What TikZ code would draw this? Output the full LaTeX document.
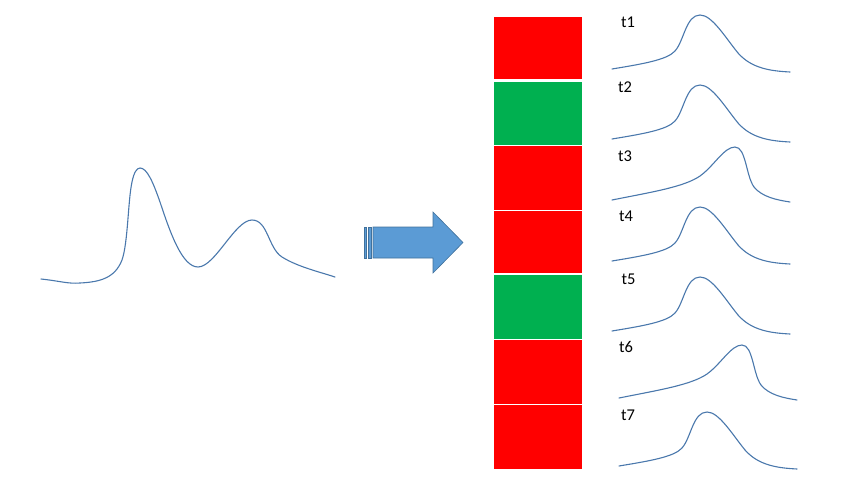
\documentclass[tikz,border=0pt]{standalone}
\usepackage{fontspec}
\setmainfont{Carlito}
\definecolor{boxred}{HTML}{FF0000}
\definecolor{boxgreen}{HTML}{00B050}
\definecolor{curveblue}{HTML}{4A78AC}
\definecolor{arrowfill}{HTML}{5B9BD5}
\definecolor{arrowline}{HTML}{41719C}
\begin{document}
\begin{tikzpicture}[x=1pt,y=-1pt,
  signal/.style={draw=curveblue,line width=1.1pt,line cap=round},
  lbl/.style={anchor=base west,inner sep=0pt,font=\fontsize{16.5}{18}\selectfont},
  arrowpart/.style={fill=arrowfill,draw=arrowline,line width=0.6pt,line join=miter}]
\useasboundingbox (0,0) rectangle (857,488);

% big signal
\draw[signal] (41,279) .. controls (60,281) and (68,284) .. (80,283)
  .. controls (100,282) and (115,278) .. (122,260)
  .. controls (128,243) and (128,200) .. (132,182)
  .. controls (134,172) and (137,168) .. (140,168)
  .. controls (147,168) and (153,182) .. (160,202)
  .. controls (170,232) and (182,267) .. (198,267)
  .. controls (215,267) and (235,220) .. (252,220)
  .. controls (268,220) and (268,248) .. (282,257)
  .. controls (298,267) and (320,272) .. (335,277);

% striped arrow
\fill[arrowpart] (364,227) rectangle (366.5,258);
\fill[arrowpart] (368,227) rectangle (371.5,258);
\draw[arrowpart] (373,227) -- (433,227) -- (433,212) -- (463,242.5) -- (433,273) -- (433,258) -- (373,258) -- cycle;

% boxes
\fill[boxred]   (494,17)  rectangle (582,79);
\fill[boxgreen] (494,82)  rectangle (582,145);
\fill[boxred]   (494,146) rectangle (582,209.5);
\fill[boxred]   (494,211) rectangle (582,273);
\fill[boxgreen] (494,275) rectangle (582,339);
\fill[boxred]   (494,340) rectangle (582,404);
\fill[boxred]   (494,405) rectangle (582,469);

% labels
\node[lbl] (t1) at (621,27.3) {t1};
\node[lbl] (t2) at (618,92) {t2};
\node[lbl] (t3) at (618,161) {t3};
\node[lbl] (t4) at (619,221.7) {t4};
\node[lbl] (t5) at (621.5,284) {t5};
\node[lbl] (t6) at (619,352) {t6};
\node[lbl] (t7) at (621,420) {t7};

% small signals: shape A (peak left of centre), shape B (peak right, sharp drop)
\def\shapeA#1#2{\draw[signal,shift={(#1,#2)}] (0,0)
  .. controls (30,-5) and (55,-9) .. (63,-18)
  .. controls (72,-28) and (74,-54) .. (88,-54)
  .. controls (100,-54) and (113,-32) .. (126,-16)
  .. controls (140,0) and (160,2) .. (178,3);}
\def\shapeB#1#2{\draw[signal,shift={(#1,#2)}] (0,0)
  .. controls (40,-8) and (72,-13) .. (88,-24)
  .. controls (102,-34) and (112,-53) .. (123,-53)
  .. controls (134,-53) and (134,-24) .. (142,-13)
  .. controls (150,-3) and (165,0) .. (178,2);}
\shapeA{612}{69}
\shapeA{612}{139}
\shapeB{612}{200}
\shapeA{612}{261}
\shapeA{612}{331}
\shapeB{619}{398}
\shapeA{619}{466}
\end{tikzpicture}
\end{document}
